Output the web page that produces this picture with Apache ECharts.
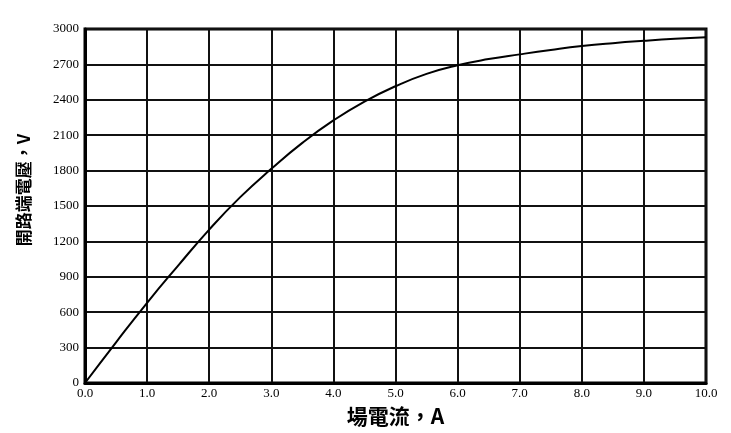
<!DOCTYPE html>
<html>
<head>
<meta charset="utf-8">
<script src="https://cdn.jsdelivr.net/npm/echarts@6/dist/echarts.min.js"></script>
<style>
html,body{margin:0;padding:0;background:#fff;}
#c{width:731px;height:433px;}
</style>
</head>
<body>
<div id="c"></div>
<script>
// Field current (A)
var fieldCurrent = [0, 0.5, 1.0, 1.5, 2.0, 2.5, 3.0, 3.5, 4.0, 4.5, 5.0, 5.5, 6.0, 6.5, 7.0, 7.5, 8.0, 8.5, 9.0, 9.5, 10.0];
// Open-circuit terminal voltage (V)
var openVoltage = [0, 345, 680, 995, 1300, 1575, 1815, 2035, 2225, 2385, 2515, 2620, 2693, 2745, 2785, 2822, 2855, 2880, 2900, 2917, 2930];
var xTitle = '場電流，A';
var yTitle = '開路端電壓，V';

var seriesData = fieldCurrent.map(function (x, i) { return [x, openVoltage[i]]; });

var chart = echarts.init(document.getElementById('c'));
chart.setOption({
  animation: false,
  backgroundColor: '#fff',
  grid: {
    left: 85, right: 25, top: 29, bottom: 50,
    show: true, borderColor: '#000', borderWidth: 3, backgroundColor: 'transparent'
  },
  xAxis: {
    type: 'value', min: 0, max: 10, interval: 1,
    name: xTitle, nameLocation: 'middle', nameGap: 23,
    nameTextStyle: { fontFamily: 'Noto Sans CJK TC', fontSize: 21, fontWeight: 'bold', color: '#000' },
    axisLine: { show: true, lineStyle: { color: '#000', width: 3 } },
    axisTick: { show: false },
    axisLabel: {
      formatter: function (v) { return v.toFixed(1); },
      fontFamily: 'Liberation Serif', fontSize: 13, color: '#000', margin: 4
    },
    splitLine: { show: true, lineStyle: { color: '#111', width: 2 } }
  },
  yAxis: {
    type: 'value', min: 0, max: 3000, interval: 300,
    name: yTitle, nameLocation: 'middle', nameGap: 53, nameRotate: 90,
    nameTextStyle: { fontFamily: 'Noto Sans CJK TC', fontSize: 17, fontWeight: 'bold', color: '#000', padding: [0, 0, 0, 32] },
    axisLine: { show: true, lineStyle: { color: '#000', width: 3 } },
    axisTick: { show: false },
    axisLabel: {
      formatter: function (v) { return String(v); },
      fontFamily: 'Liberation Serif', fontSize: 13, color: '#000', margin: 6
    },
    splitLine: { show: true, lineStyle: { color: '#111', width: 2 } }
  },
  series: [{
    type: 'line',
    data: seriesData,
    smooth: true,
    symbol: 'none',
    lineStyle: { color: '#000', width: 2 },
    z: 5
  }]
});
</script>
</body>
</html>
